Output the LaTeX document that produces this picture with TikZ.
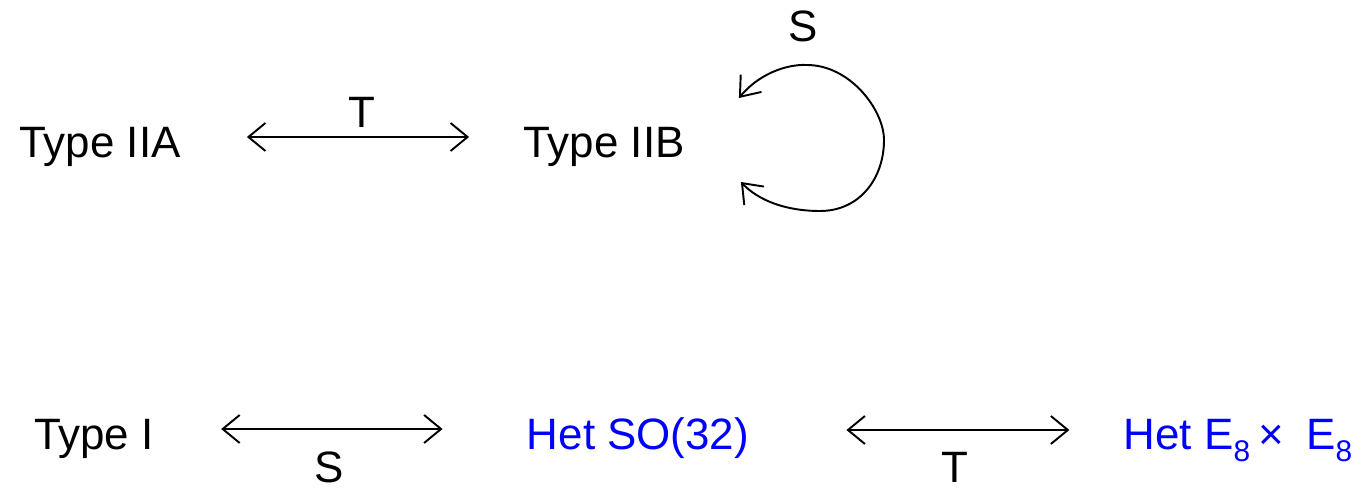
\documentclass[tikz,border=0pt]{standalone}
\usepackage{fontspec}
\setmainfont{Liberation Sans}
\usetikzlibrary{arrows.meta,calc}
\definecolor{hetblue}{RGB}{0,0,255}
\newcommand\lowsub[1]{\raisebox{-0.26cm}{\fontsize{17}{20}\selectfont #1}}
\begin{document}
\begin{tikzpicture}[x=0.02cm,y=-0.02cm,
  lbl/.style={inner sep=0pt,anchor=base,font=\fontsize{25}{30}\selectfont},
  het/.style={lbl,text=hetblue},
  dual/.style={line width=1.1pt,{Straight Barb[length=0.34cm,width=0.56cm]}-{Straight Barb[length=0.34cm,width=0.56cm]}},
  loopline/.style={line width=1.1pt,{Straight Barb[length=0.35cm,width=0.54cm]}-{Straight Barb[length=0.35cm,width=0.54cm]}}]
\useasboundingbox (0,0) rectangle (1365,489);
% nodes
\node[lbl] (iia) at (100,158) {Type IIA};
\node[lbl] (iib) at (604,158) {Type IIB};
\node[lbl] (ti) at (94,449) {Type I};
\node[het] (so) at (638,449) {Het SO(32)};
\node[het] (ee) at (1238,449) {Het E\lowsub{8}\hspace{0.16cm}×\hspace{0.45cm}E\lowsub{8}};
% labels
\node[lbl] (tT) at (362,128) {T};
\node[lbl] (tS) at (803,42) {S};
\node[lbl] (bS) at (329,482) {S};
\node[lbl] (bT) at (955,482) {T};
% connectors
\draw[dual] ($(iia.base east)+(66,-21)$) -- ($(iib.base west)+(-54,-21)$);
\draw[dual] ($(ti.base east)+(67,-20)$) -- ($(so.base west)+(-84,-20)$);
\draw[dual] ($(so.base east)+(97,-19)$) -- ($(ee.base west)+(-54,-19)$);
% self loop on Type IIB
\coordinate (la) at ($(iib.base east)+(54,-60)$);
\coordinate (le) at ($(iib.base east)+(56,24)$);
\draw[loopline] (la) .. controls (758,75) and (785,64) .. (807,65)
  .. controls (850,65) and (884,110) .. (884,140)
  .. controls (884,178) and (860,211) .. (820,211)
  .. controls (785,211) and (758,200) .. (le);
\end{tikzpicture}
\end{document}
